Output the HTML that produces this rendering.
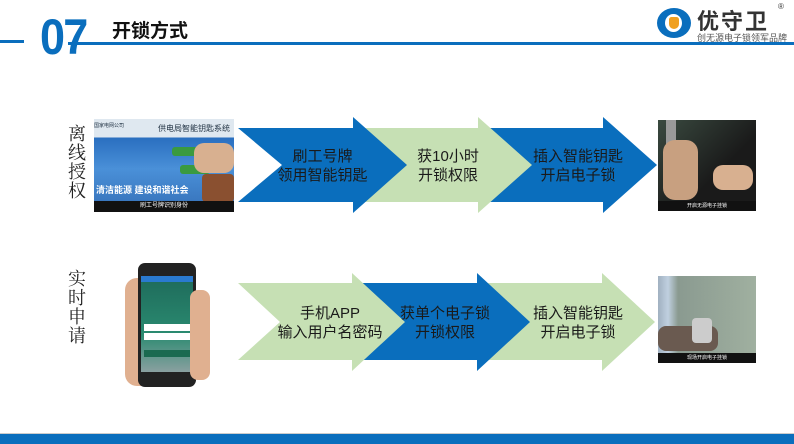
<!DOCTYPE html>
<html><head><meta charset="utf-8"><style>
*{margin:0;padding:0;box-sizing:border-box}
body{width:794px;height:444px;position:relative;overflow:hidden;background:#fff;font-family:"Liberation Sans","Noto Sans CJK SC",sans-serif}
.a{position:absolute}
.t{position:absolute;font-size:15px;color:#1a1a1a;text-align:center;line-height:19px;white-space:nowrap}
.side{position:absolute;font-family:"Noto Serif CJK SC",serif;font-size:18px;line-height:19px;width:20px;color:#222}
</style></head><body>
<div class="a" style="left:0;top:40px;width:24px;height:3px;background:#0a6ebd"></div>
<div class="a" style="left:68px;top:42px;width:726px;height:3px;background:#0a6ebd"></div>
<div class="a" style="left:40px;top:9px;font-size:50px;font-weight:bold;color:#0a6ebd;line-height:56px;letter-spacing:-2px;transform:scaleX(0.9);transform-origin:left">07</div>
<div class="a" style="left:112px;top:16px;font-size:19px;font-weight:bold;color:#111">开锁方式</div>
<!-- logo -->
<div class="a" style="left:657px;top:8px;width:34px;height:30px;border-radius:50%;background:#0a6ebd"></div>
<div class="a" style="left:665px;top:14px;width:17px;height:18px;border-radius:50%;background:#fff"></div>
<div class="a" style="left:669px;top:17px;width:10px;height:12px;border-radius:3px 3px 6px 6px;background:#f0a020"></div>
<div class="a" style="left:697px;top:4px;font-size:22px;font-weight:bold;color:#333;letter-spacing:2px">优守卫</div>
<div class="a" style="left:778px;top:2px;font-size:8px;color:#333">®</div>
<div class="a" style="left:697px;top:31px;font-size:9px;color:#555">创无源电子锁领军品牌</div>

<div class="side" style="left:68px;top:124px">离<br>线<br>授<br>权</div>
<div class="side" style="left:68px;top:269px">实<br>时<br>申<br>请</div>

<svg class="a" style="left:0;top:0" width="794" height="444">
<polygon points="490,128 603,128 603,117 657,165 603,213 603,202 490,202" fill="#0a6ebd"/>
<polygon points="363,128 478,128 478,117 532,165 478,213 478,202 363,202" fill="#c6e0b4"/>
<polygon points="238,128 353,128 353,117 407,165 353,213 353,202 238,202 282,165" fill="#0a6ebd"/>
<polygon points="485,283 602,283 602,273 655,322 602,371 602,360 485,360" fill="#c6e0b4"/>
<polygon points="360,283 477,283 477,273 530,322 477,371 477,360 360,360" fill="#0a6ebd"/>
<polygon points="238,283 352,283 352,273 405,322 352,371 352,360 238,360 280,322" fill="#c6e0b4"/>
</svg>
<div class="t" style="left:275px;top:147px;width:95px">刷工号牌<br>领用智能钥匙</div>
<div class="t" style="left:408px;top:147px;width:80px">获10小时<br>开锁权限</div>
<div class="t" style="left:528px;top:147px;width:100px">插入智能钥匙<br>开启电子锁</div>
<div class="t" style="left:275px;top:304px;width:110px">手机APP<br>输入用户名密码</div>
<div class="t" style="left:400px;top:304px;width:90px">获单个电子锁<br>开锁权限</div>
<div class="t" style="left:528px;top:304px;width:100px">插入智能钥匙<br>开启电子锁</div>

<!-- image 1 -->
<div class="a" style="left:94px;top:119px;width:140px;height:93px;background:linear-gradient(#dfe8f0 0,#dfe8f0 18px,#2a6fc0 19px,#4a90d8 50px,#3a78c0 82px);overflow:hidden">
<div class="a" style="left:0;top:3px;font-size:5px;color:#234">国家电网公司</div>
<div class="a" style="left:64px;top:4px;font-size:8px;color:#234">供电局智能钥匙系统</div>
<div class="a" style="left:78px;top:28px;width:32px;height:9px;background:#3a9a40;border-radius:3px"></div>
<div class="a" style="left:86px;top:46px;width:30px;height:9px;background:#3a9a40;border-radius:3px"></div>
<div class="a" style="left:100px;top:24px;width:40px;height:30px;background:#d8b090;border-radius:10px"></div>
<div class="a" style="left:108px;top:55px;width:32px;height:28px;background:#8a5030;border-radius:4px"></div>
<div class="a" style="left:2px;top:64px;font-size:9px;color:#fff;font-weight:bold">清洁能源 建设和谐社会</div>
<div class="a" style="left:0;top:82px;width:140px;height:11px;background:#111;color:#fff;font-size:6px;text-align:center;line-height:11px">刷工号牌识别身份</div>
</div>
<!-- image 2 -->
<div class="a" style="left:658px;top:120px;width:98px;height:91px;background:linear-gradient(135deg,#3a4a40,#1a1a1a 60%);overflow:hidden">
<div class="a" style="left:8px;top:0;width:10px;height:60px;background:#999"></div>
<div class="a" style="left:5px;top:20px;width:35px;height:60px;background:#c8a080;border-radius:12px"></div>
<div class="a" style="left:55px;top:45px;width:40px;height:25px;background:#d8b090;border-radius:10px"></div>
<div class="a" style="left:0;top:81px;width:98px;height:10px;background:#111;color:#fff;font-size:5px;text-align:center;line-height:10px">开启无源电子挂锁</div>
</div>
<!-- phone -->
<div class="a" style="left:125px;top:278px;width:30px;height:108px;background:#e0b090;border-radius:12px"></div>
<div class="a" style="left:138px;top:263px;width:58px;height:124px;background:#222;border-radius:7px"></div>
<div class="a" style="left:141px;top:276px;width:52px;height:96px;background:linear-gradient(#1e6a5a,#2a8a70 60%,#8aa0a0)"></div>
<div class="a" style="left:141px;top:276px;width:52px;height:6px;background:#2a7ad0"></div>
<div class="a" style="left:144px;top:324px;width:46px;height:7px;background:#fff"></div>
<div class="a" style="left:144px;top:333px;width:46px;height:7px;background:#fff"></div>
<div class="a" style="left:144px;top:350px;width:46px;height:7px;background:#1a6a50"></div>
<div class="a" style="left:190px;top:290px;width:20px;height:90px;background:#e0b090;border-radius:8px"></div>
<!-- image 3 -->
<div class="a" style="left:658px;top:276px;width:98px;height:87px;background:linear-gradient(90deg,#a0b0c0 0,#c0d0e0 10px,#8a9a90 20px,#a0b0a0);overflow:hidden">
<div class="a" style="left:0;top:50px;width:60px;height:25px;background:#6a5a50;border-radius:8px"></div>
<div class="a" style="left:34px;top:42px;width:20px;height:25px;background:#ccc;border-radius:4px"></div>
<div class="a" style="left:0;top:77px;width:98px;height:10px;background:#111;color:#fff;font-size:5px;text-align:center;line-height:10px">现场开启电子挂锁</div>
</div>

<div class="a" style="left:0;top:433px;width:794px;height:1px;background:#ccc"></div>
<div class="a" style="left:0;top:434px;width:794px;height:10px;background:#0a6ebd"></div>
</body></html>
